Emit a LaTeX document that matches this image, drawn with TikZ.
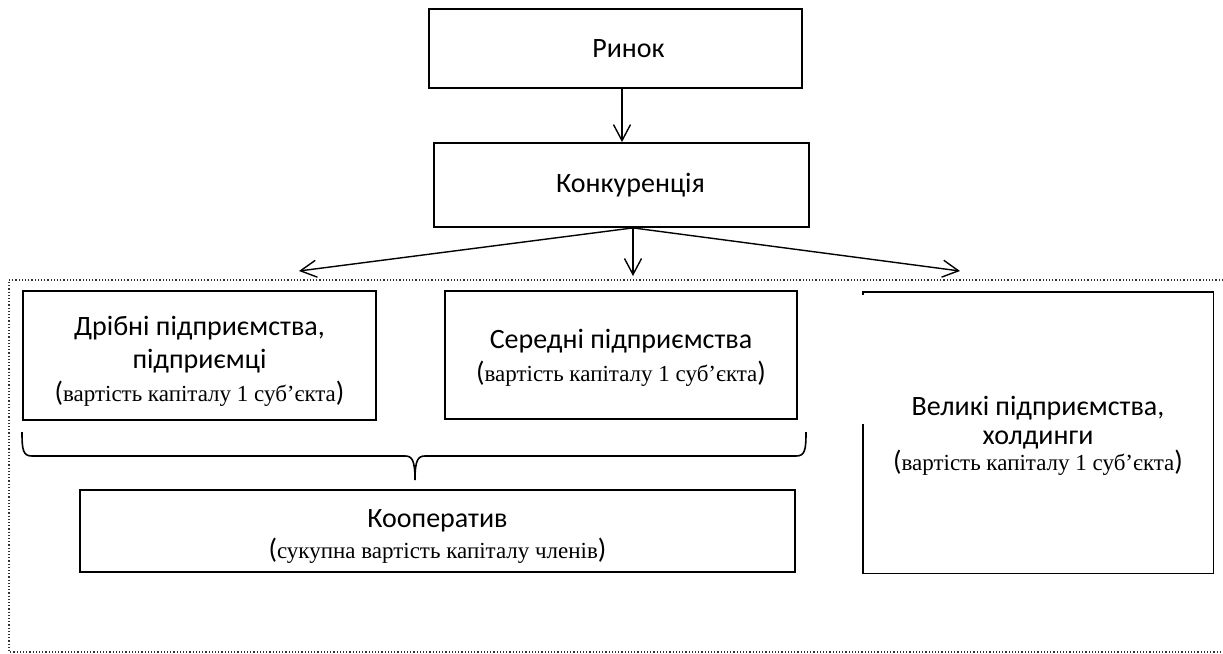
\documentclass[tikz,border=0pt]{standalone}
\usepackage{fontspec}
\setmainfont{Liberation Serif}
\newfontfamily\sansf{Carlito}
\usetikzlibrary{arrows.meta}
\newcommand{\sub}[1]{{\rmfamily\fontsize{11.5}{14}\selectfont{\sansf\fontsize{14}{14}\selectfont(}#1{\sansf\fontsize{14}{14}\selectfont)}}}
\begin{document}
\begin{tikzpicture}[x=0.5pt,y=-0.5pt,
  box/.style={draw, line width=0.9pt, inner sep=0pt, align=center,
    font=\sansf\fontsize{14}{16.5}\selectfont},
  ghost/.style={inner sep=0pt, align=center,
    font=\sansf\fontsize{14}{16.5}\selectfont},
  arr/.style={draw, line width=0.7pt, -{Straight Barb[length=8pt,width=8.5pt,line width=0.7pt]}},
  frame/.style={densely dotted, line width=0.6pt, black!80},
  bline/.style={line width=0.9pt}
]
\useasboundingbox (0,0) rectangle (1223,654);
% top boxes
\node[box, minimum width=186.5pt, minimum height=39.5pt] (rinok) at (615.5,48.5) {\hspace*{13pt}Ринок};
\node[box, minimum width=187.5pt, minimum height=42pt] (konk) at (621.5,185) {\hspace*{9pt}Конкуренція};
\coordinate (c1) at (622,0);
\coordinate (c2) at (633,0);
\draw[arr] (rinok.south -| c1) -- (konk.north -| c1);
% fork
\coordinate (fork) at (konk.south -| c2);
\coordinate (tl) at (299,271);
\coordinate (tc) at (633,276);
\coordinate (tr) at (960,271);
\draw[arr] (fork) -- (tl);
\draw[arr] (fork) -- (tc);
\draw[arr] (fork) -- (tr);
% dotted frame
\draw[frame] (1223,280) -- (9,280) -- (9,652) -- (1223,652);
% small & medium
\node[box, minimum width=176.5pt, minimum height=64.5pt] (small) at (199.5,355.5) {};
\node[ghost] (smalltext) at (199.5,361)
  {Дрібні підприємства,\\ підприємці\\[0pt] \sub{вартість капіталу 1 суб’єкта}};
\node[box, minimum width=176pt, minimum height=64pt] (mid) at (621,355) {};
\node[ghost] (midtext) at (621,358)
  {Середні підприємства\\[0pt] \sub{вартість капіталу 1 суб’єкта}};
% brace
\draw[bline, line width=0.8pt] (22,432) .. controls (22,450) and (23,456) .. (32,456) -- (405,456)
  .. controls (412,456) and (415,460) .. (415,480)
  .. controls (415,460) and (418,456) .. (425,456) -- (796,456)
  .. controls (805,456) and (806,450) .. (806,432);
% cooperative
\node[box, minimum width=357.5pt, minimum height=41pt] (coop) at (437.5,531) {};
\node[ghost] (cooptext) at (437.5,536)
  {Кооператив\\[-1pt] \sub{сукупна вартість капіталу членів}};
% large
\node[inner sep=0pt, minimum width=175pt, minimum height=140.5pt] (big) at (1038,432.5) {};
\node[ghost, font=\sansf\fontsize{14}{14.5}\selectfont] (bigtext) at (1038,436)
  {Великі підприємства,\\ холдинги\\[-1.5pt] \sub{вартість капіталу 1 суб’єкта}};
\coordinate (gap) at (0,424);
\draw[bline] (big.north west) ++(0,3) -- (big.north west) -- (big.north east) -- (big.south east) -- (big.south west) -- (big.south west |- gap);
\end{tikzpicture}
\end{document}
